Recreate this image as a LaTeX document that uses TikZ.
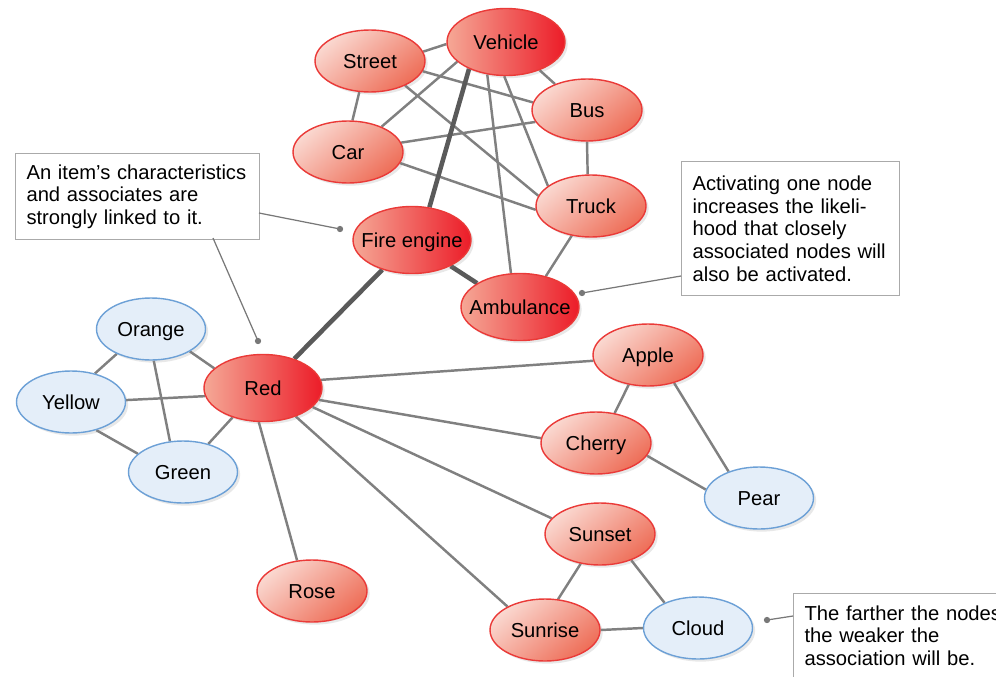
\documentclass[tikz,border=0pt]{standalone}
\usepackage{fontspec}
\setmainfont{Liberation Sans}
\usetikzlibrary{shapes.geometric,shadows,backgrounds}

\definecolor{hotL}{RGB}{245,168,150}
\definecolor{hotR}{RGB}{236,28,40}
\definecolor{warmL}{RGB}{250,216,208}
\definecolor{warmR}{RGB}{238,110,88}
\definecolor{redline}{RGB}{234,58,56}
\definecolor{coolfill}{RGB}{228,238,249}
\definecolor{coolline}{RGB}{108,160,214}
\definecolor{linkgray}{RGB}{128,128,128}
\definecolor{stronggray}{RGB}{90,90,90}
\definecolor{notegray}{RGB}{170,170,170}
\definecolor{leadgray}{RGB}{120,120,120}

\newcommand{\ctext}[1]{\makebox[0pt]{#1}}

\tikzset{
  concept/.style={ellipse, inner sep=0pt, text height=8.2pt, text depth=0pt,
    font=\fontsize{11.5}{13}\selectfont, text=black, line width=0.8pt,
    drop shadow={shadow xshift=1.5pt, shadow yshift=-1.5pt, opacity=0.18}},
  hot/.style={concept, draw=redline, left color=hotL, right color=hotR,
    minimum width=118*0.02cm, minimum height=67*0.02cm},
  warm/.style={concept, draw=redline, top color=warmL, bottom color=warmR,
    shading angle=40, minimum width=110*0.02cm, minimum height=62*0.02cm},
  cool/.style={concept, draw=coolline, fill=coolfill,
    minimum width=109*0.02cm, minimum height=62*0.02cm},
  link/.style={draw=linkgray, line width=1.4pt},
  strong/.style={draw=stronggray, line width=2.6pt},
  note/.style={draw=notegray, line width=0.6pt, fill=white, anchor=north west,
    align=left, inner xsep=11*0.02cm, inner ysep=0pt,
    font=\fontsize{11.5}{12.9}\selectfont, text=black},
  lead/.style={draw=leadgray, line width=0.7pt},
  leaddot/.style={circle, fill=leadgray, inner sep=0pt, minimum size=3.6pt}
}

\begin{document}
\begin{tikzpicture}[x=0.02cm, y=-0.02cm]
\useasboundingbox (0,0) rectangle (996,676);

% vehicle cluster
\node[hot]  (vehicle)   at (506,42)  {\ctext{Vehicle}};
\node[warm] (street)    at (370,61)  {\ctext{Street}};
\node[warm] (bus)       at (587,110) {\ctext{Bus}};
\node[warm] (car)       at (348,152) {\ctext{Car}};
\node[warm] (truck)     at (591,206) {\ctext{Truck}};
\node[hot]  (fireengine) at (412,240) {\ctext{Fire engine}};
\node[hot]  (ambulance) at (520,307) {\ctext{Ambulance}};

% colour cluster
\node[hot]  (red)    at (263,388) {\ctext{Red}};
\node[cool] (orange) at (151,329) {\ctext{Orange}};
\node[cool] (yellow) at (71,402)  {\ctext{Yellow}};
\node[cool] (green)  at (183,472) {\ctext{Green}};

% fruit cluster
\node[warm] (apple)  at (648,355) {\ctext{Apple}};
\node[warm] (cherry) at (596,443) {\ctext{Cherry}};
\node[cool] (pear)   at (759,498) {\ctext{Pear}};

% sky cluster
\node[warm] (sunset)  at (600,534) {\ctext{Sunset}};
\node[warm] (rose)    at (312,591) {\ctext{Rose}};
\node[warm] (sunrise) at (545,630) {\ctext{Sunrise}};
\node[cool] (cloud)   at (698,628) {\ctext{Cloud}};

\begin{scope}[on background layer]
  % vehicle links
  \draw[link] (street.10)  -- (vehicle.182);
  \draw[link] (vehicle.202) -- (car.37);
  \draw[link] (vehicle.240) -- (ambulance.105);
  \draw[link] (vehicle.267) -- (truck.155);
  \draw[link] (vehicle.320) -- (bus.141);
  \draw[link] (street.349) -- (bus.172);
  \draw[link] (street.325) -- (truck.169);
  \draw[link] (street.251) -- (car.82);
  \draw[link] (car.10)  -- (bus.193);
  \draw[link] (car.348) -- (truck.184);
  \draw[link] (bus.270) -- (truck.96);
  \draw[link] (truck.237) -- (ambulance.50);
  \draw[strong] (vehicle.216) -- (fireengine.62);
  \draw[strong] (fireengine.326) -- (ambulance.151);
  \draw[strong] (fireengine.225) -- (red.43);
  % colour links
  \draw[link] (orange.330) -- (red.158);
  \draw[link] (orange.216) -- (yellow.50);
  \draw[link] (orange.275) -- (green.113);
  \draw[link] (yellow.2)   -- (red.188);
  \draw[link] (yellow.312) -- (green.158);
  \draw[link] (green.48)   -- (red.224);
  \draw[link] (red.263) -- (rose.116);
  \draw[link] (red.8)   -- (apple.186);
  \draw[link] (red.348) -- (cherry.175);
  \draw[link] (red.339) -- (sunset.162);
  \draw[link] (red.319) -- (sunrise.148);
  % fruit links
  \draw[link] (apple.237) -- (cherry.58);
  \draw[link] (apple.313) -- (pear.139);
  \draw[link] (cherry.346) -- (pear.171);
  % sky links
  \draw[link] (sunset.237) -- (sunrise.67);
  \draw[link] (sunset.320) -- (cloud.143);
  \draw[link] (sunrise.0)  -- (cloud.180);
\end{scope}

% explanatory notes
\node[note, text width=222*0.02cm, minimum height=86*0.02cm] (note1) at (15,153)
  {An item’s characteristics\\and associates are\\strongly linked to it.};
\node[note, text width=196*0.02cm, minimum height=134*0.02cm] (note2) at (681,161)
  {Activating one node\\increases the likeli-\\hood that closely\\associated nodes will\\also be activated.};
\node[note, text width=200*0.02cm, minimum height=84*0.02cm] (note3) at (793,593)
  {The farther the nodes\\the weaker the\\association will be.};

\node[leaddot] (dot1) at (340,229) {};
\node[leaddot] (dot2) at (258,341) {};
\node[leaddot] (dot3) at (582,293) {};
\node[leaddot] (dot4) at (767,620) {};
\coordinate (n1r) at (259,213);
\coordinate (n1b) at (213,238);
\coordinate (n2l) at (681,276);
\coordinate (n3l) at (793,616);
\draw[lead] (n1r) -- (dot1.center);
\draw[lead] (n1b) -- (dot2.center);
\draw[lead] (n2l) -- (dot3.center);
\draw[lead] (n3l) -- (dot4.center);
\end{tikzpicture}
\end{document}
